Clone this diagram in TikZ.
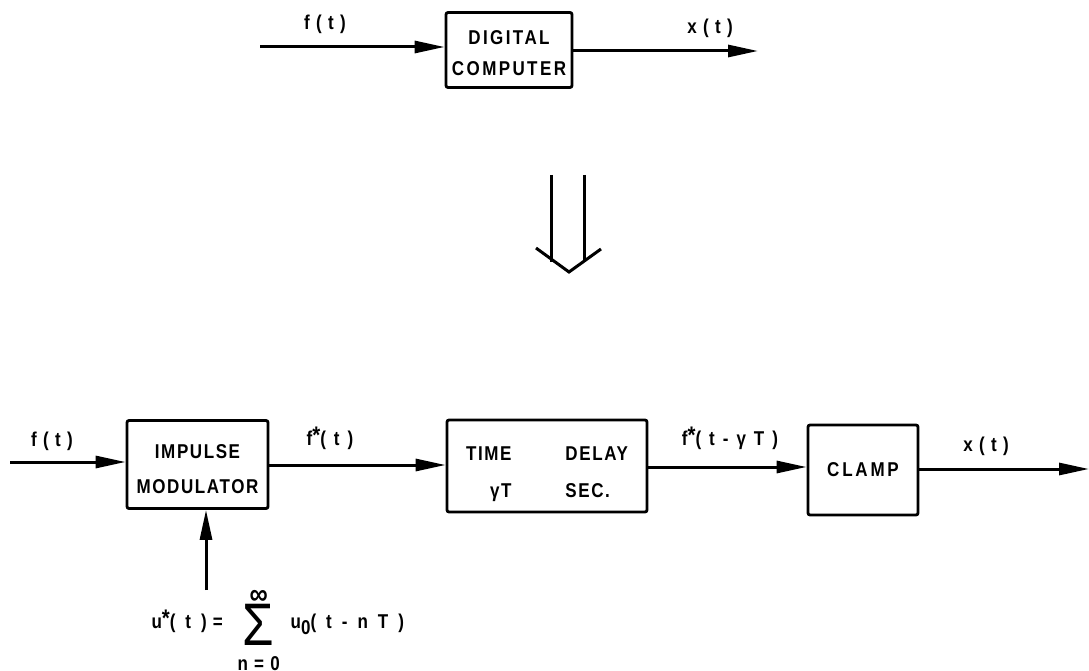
\documentclass[tikz,border=0pt]{standalone}
\usepackage{fontspec}
\setmainfont{Liberation Sans}[FakeStretch=0.85,LetterSpace=8]
\usetikzlibrary{arrows.meta}
\newcommand{\myast}{\raisebox{2pt}{\fontsize{24}{24}\selectfont *}}
\newcommand{\gp}{\hspace{8pt}}
\newcommand{\fg}{\hspace{10pt}}
\newcommand{\twolines}[4]{\raisebox{#1}[0pt][0pt]{\def\arraystretch{#2}\begin{tabular}{@{}c@{}}#3\\#4\end{tabular}}}
\begin{document}
\begin{tikzpicture}[x=1pt,y=-1pt,
  line width=3pt,
  blk/.style={draw,line width=2.8pt,rounded corners=2pt,align=center,inner sep=0pt,
    font=\fontsize{20}{33}\selectfont\bfseries},
  lab/.style={font=\fontsize{20}{22}\selectfont\bfseries,inner sep=0pt},
  sig/.style={-{Triangle[length=30pt,width=12pt]}}]
\useasboundingbox (0,0) rectangle (1089,671);
% top
\node[blk,minimum width=126pt,minimum height=75pt,font=\fontsize{20}{33}\selectfont\bfseries\addfontfeature{LetterSpace=12}] (dc) at (509,50) {\twolines{-9pt}{0.93}{DIGITAL}{COMPUTER}};
\coordinate (in1) at (260,47);
\coordinate (out1) at (758,51);
\draw[sig] (in1) -- (in1 -| dc.west);
\draw[sig] (out1 -| dc.east) -- (out1);
\node[lab] (l1) at (325,24) {f ( t )};
\node[lab] (l2) at (710,28) {x ( t )};
% double arrow
\draw[line width=3pt] (551,175) -- (551,262);
\draw[line width=3pt] (584,175) -- (584,262);
\draw[line width=3pt,line join=miter] (536,248) -- (569,272) -- (601,249);
% bottom
\node[blk,minimum width=141pt,minimum height=88pt] (im) at (197.5,464.5) {\twolines{-9.5pt}{1.06}{IMPULSE}{MODULATOR}};
\node[blk,minimum width=200pt,minimum height=92pt] (td) at (547,466) {\raisebox{-11pt}[0pt][0pt]{\def\arraystretch{1.1}\begin{tabular}{@{}r@{\hspace{54pt}}l@{}}TIME & DELAY\\γT & SEC.\end{tabular}}};
\node[blk,minimum width=110pt,minimum height=90pt,font=\fontsize{20}{33}\selectfont\bfseries\addfontfeature{LetterSpace=14}] (cl) at (863,470) {CLAMP};
\coordinate (in2) at (10,462);
\coordinate (out2) at (1089,469);
\coordinate (u) at (206,590);
\draw[sig] (in2) -- (in2 -| im.west);
\draw[sig] (im.east |- 0,465) -- (td.west |- 0,465);
\draw[sig] (td.east |- 0,467) -- (cl.west |- 0,467);
\draw[sig] (cl.east |- out2) -- (out2);
\draw[sig] (u) -- (u |- im.south);
\node[lab] (l3) at (52,441) {f ( t )};
\node[lab] (l4) at (330,438) {f\myast(\gp t\gp)};
\node[lab] (l5) at (730,438) {f\myast(\gp t\gp -\gp γ\gp T\gp)};
\node[lab] (l6) at (986,446) {x ( t )};
\node[lab,anchor=base west] (fm) at (150,628) {u\myast(\fg t\fg)\hspace{6pt}=\hspace{18pt}%
\makebox[36pt]{\raisebox{-17pt}{\fontsize{60}{60}\selectfont\mdseries Σ}}\hspace{-36pt}%
\makebox[36pt]{\raisebox{24pt}{\fontsize{30}{30}\selectfont ∞}}\hspace{-36pt}%
\makebox[36pt]{\raisebox{-42pt}{n = 0}}\hspace{14pt}%
u\raisebox{-6pt}{0}(\fg t\fg -\fg n\fg T\fg)};
\end{tikzpicture}
\end{document}
